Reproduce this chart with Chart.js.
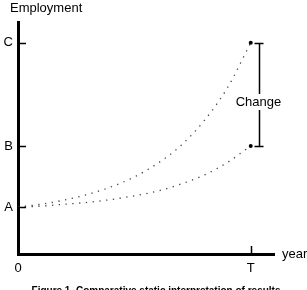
<!DOCTYPE html>
<html>
<head>
<meta charset="utf-8">
<script src="https://cdn.jsdelivr.net/npm/chart.js@4/dist/chart.umd.min.js"></script>
<style>
  html, body { margin: 0; padding: 0; background: #fff; }
  #wrap { width: 307px; height: 290px; position: relative; }
</style>
</head>
<body>
<div id="wrap"><canvas id="chart"></canvas></div>
<script>
// data
var years = [0, 1, 2, 3, 4, 5, 6, 7, 8, 9, 10];
var upper = [1, 1.06, 1.15, 1.27, 1.43, 1.64, 1.93, 2.31, 2.84, 3.54, 4.5];
var lower = [1, 1.02, 1.06, 1.10, 1.16, 1.24, 1.34, 1.49, 1.68, 1.95, 2.3];
var yTickVals = [1, 2.3, 4.5];
var yTickLabels = ['A', 'B', 'C'];
var xTickVals = [0, 10];
var xTickLabels = ['0', 'T'];

var FONT = 'Liberation Sans, Arial, sans-serif';

function toPts(vals) {
  return vals.map(function (v, i) { return { x: years[i], y: v }; });
}
function endRadius(vals) {
  return vals.map(function (v, i) { return i == vals.length - 1 ? 2 : 0; });
}

// extra drawing: tick marks, bracket, axis titles, caption
var extras = {
  id: 'extras',
  afterDraw: function (chart) {
    var c = chart.ctx, xs = chart.scales.x, ys = chart.scales.y;
    var x0 = xs.getPixelForValue(0);
    c.save();
    c.strokeStyle = '#000';
    c.lineWidth = 1.5;
    // y tick marks inside the plot
    yTickVals.forEach(function (v) {
      var y = Math.round(ys.getPixelForValue(v)) + 0.5;
      c.beginPath(); c.moveTo(x0, y); c.lineTo(x0 + 8, y); c.stroke();
    });
    // tick at T
    var xt = Math.round(xs.getPixelForValue(10)) + 0.5;
    var yb = ys.getPixelForValue(0);
    c.beginPath(); c.moveTo(xt, yb - 8); c.lineTo(xt, yb); c.stroke();

    // change bracket
    var bx = xt + 8;
    var yTop = Math.round(ys.getPixelForValue(upper[upper.length - 1])) + 0.5;
    var yBot = Math.round(ys.getPixelForValue(lower[lower.length - 1])) + 0.5;
    c.beginPath();
    c.moveTo(bx, yTop); c.lineTo(bx, yBot);
    c.moveTo(bx - 5, yTop); c.lineTo(bx + 4, yTop);
    c.moveTo(bx - 5, yBot); c.lineTo(bx + 4, yBot);
    c.stroke();
    c.font = '13px ' + FONT;
    c.textAlign = 'center';
    c.textBaseline = 'middle';
    var ym = (yTop + yBot) / 2 + 7;
    var w = c.measureText('Change').width;
    c.fillStyle = '#fff';
    c.fillRect(bx - w / 2 - 1, ym - 8, w + 2, 16);
    c.fillStyle = '#000';
    c.fillText('Change', bx - 1, ym);

    // axis titles
    c.textAlign = 'left';
    c.fillText('Employment', 10, 8);
    c.fillText('year', 282, yb);

    // caption (cut by the bottom edge)
    c.font = 'bold 10px ' + FONT;
    c.textAlign = 'center';
    c.textBaseline = 'top';
    c.fillText('Figure 1. Comparative static interpretation of results', 156, 286);
    c.restore();
  }
};

var ctx = document.getElementById('chart').getContext('2d');
var chart = new Chart(ctx, {
  type: 'line',
  data: {
    datasets: [{
      data: toPts(upper),
      borderColor: '#444',
      borderWidth: 1.3,
      borderDash: [1.3, 5.5],
      tension: 0.4,
      cubicInterpolationMode: 'monotone',
      pointRadius: endRadius(upper),
      pointBackgroundColor: '#000',
      pointBorderWidth: 0
    }, {
      data: toPts(lower),
      borderColor: '#444',
      borderWidth: 1.3,
      borderDash: [1.3, 5.5],
      tension: 0.4,
      cubicInterpolationMode: 'monotone',
      pointRadius: endRadius(lower),
      pointBackgroundColor: '#000',
      pointBorderWidth: 0
    }]
  },
  options: {
    responsive: true,
    maintainAspectRatio: false,
    animation: false,
    layout: { padding: { top: 22, right: 33, left: 0, bottom: 0 } },
    plugins: { legend: { display: false }, tooltip: { enabled: false } },
    scales: {
      x: {
        type: 'linear',
        min: 0,
        max: 11,
        afterFit: function (s) { s.height = 36; },
        afterBuildTicks: function (s) { s.ticks = xTickVals.map(function (v) { return { value: v }; }); },
        grid: { display: false, drawTicks: false },
        border: { color: '#000', width: 3 },
        ticks: {
          padding: 7,
          color: '#000',
          font: { family: FONT, size: 13 },
          callback: function (v) { return xTickLabels[xTickVals.indexOf(v)]; }
        }
      },
      y: {
        type: 'linear',
        min: 0,
        max: 4.94,
        afterFit: function (s) { s.width = 18; },
        afterBuildTicks: function (s) { s.ticks = yTickVals.map(function (v) { return { value: v }; }); },
        grid: { display: false, drawTicks: false },
        border: { color: '#000', width: 3 },
        ticks: {
          padding: 5,
          color: '#000',
          font: { family: FONT, size: 13 },
          callback: function (v) { return yTickLabels[yTickVals.indexOf(v)]; }
        }
      }
    }
  },
  plugins: [extras]
});
</script>
</body>
</html>
